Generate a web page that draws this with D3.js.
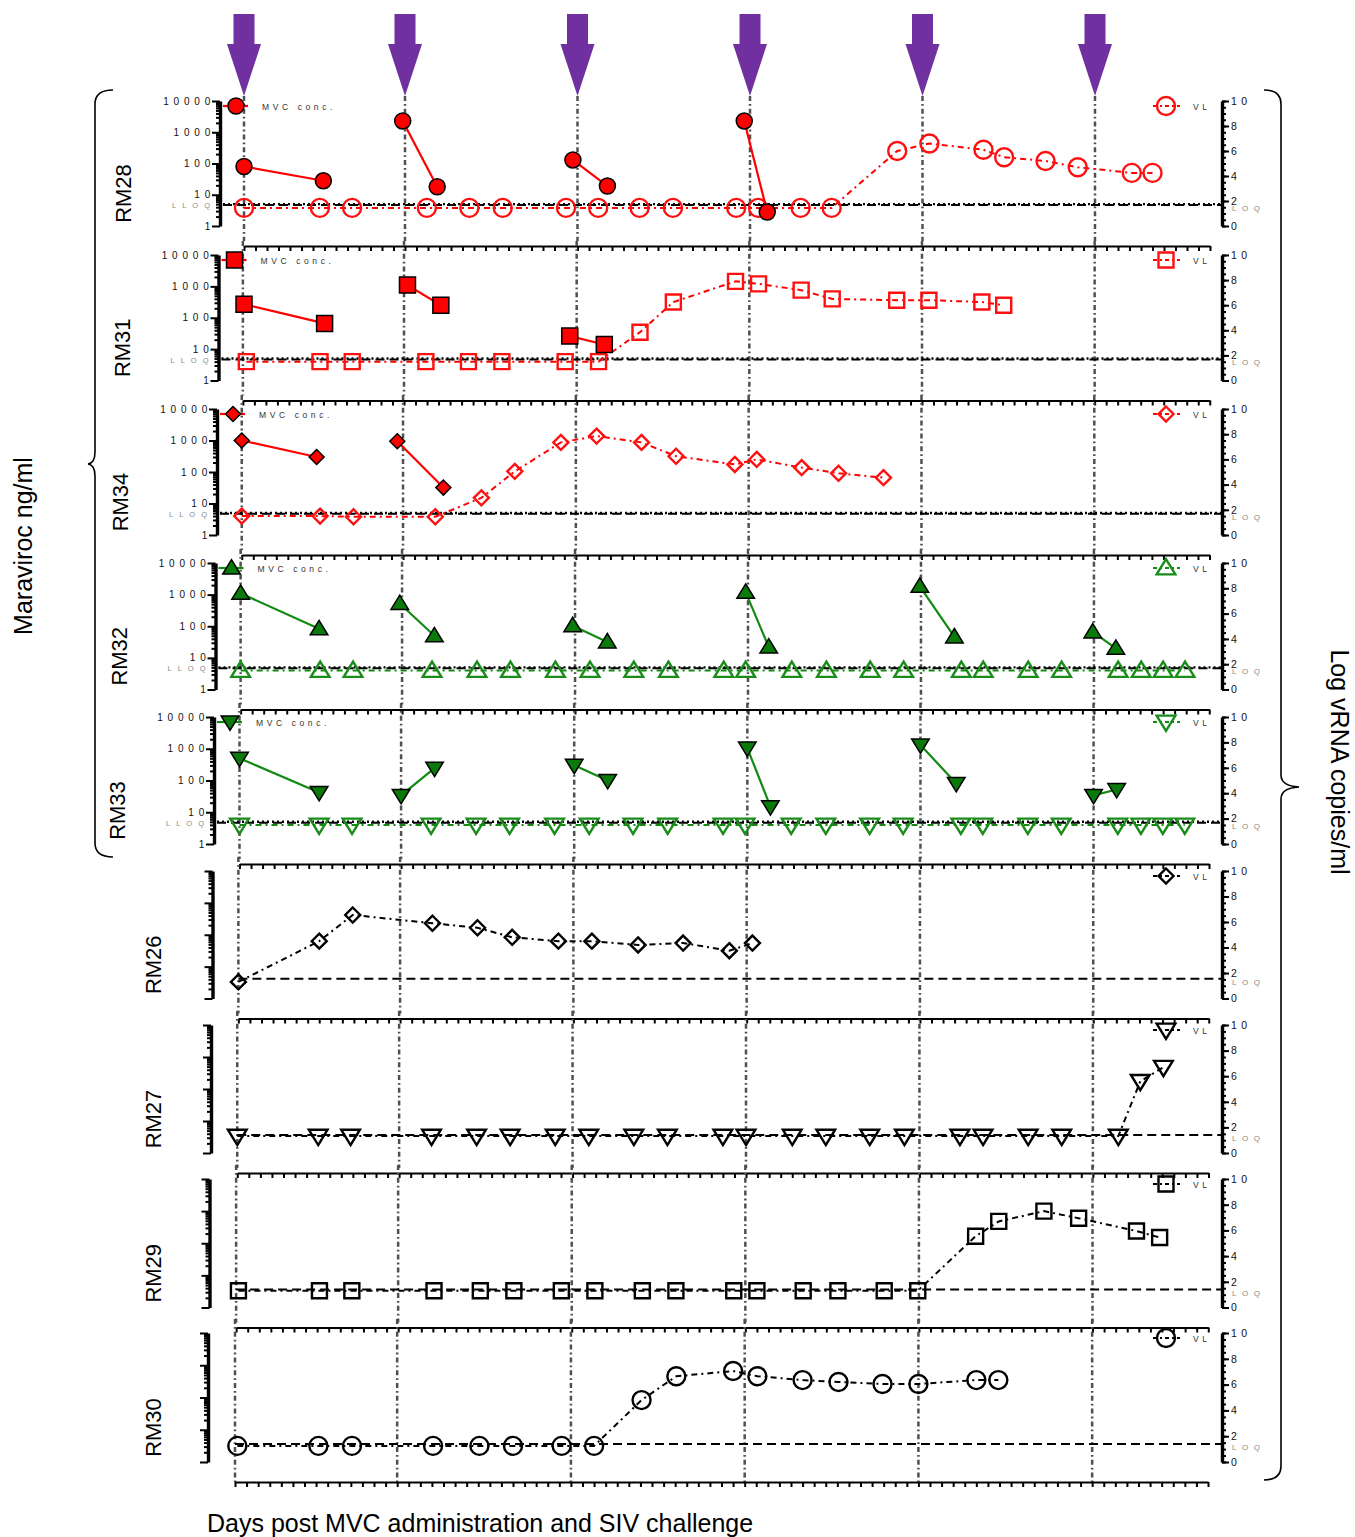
<!DOCTYPE html>
<html><head><meta charset="utf-8">
<script src="https://cdn.jsdelivr.net/npm/d3@7"></script>
<style>body{margin:0;background:#fff}</style>
</head><body>
<svg id="c" width="1355" height="1537" xmlns="http://www.w3.org/2000/svg"></svg>
<script>
// ---------- DATA ----------
const animals = ["RM28","RM31","RM34","RM32","RM33","RM26","RM27","RM29","RM30"];
const animalColor = ["red","red","red","green","green","black","black","black","black"];
const animalSymbol = ["circle","square","diamond","triangle","triangleDown","diamond","triangleDown","square","circle"];
const doseDays = [0, 14, 29, 44, 59, 74];
const mvcTicks = [1, 10, 100, 1000, 10000];
const mvcTickLabels = ["1", "10", "100", "1000", "10000"];
const vlTicks = [0, 2, 4, 6, 8, 10];
const vlTickLabels = ["0", "2", "4", "6", "8", "10"];
const mvcLLOQ = 5;      // ng/ml
const vlLOQ = [1.68, 1.68, 1.68, 1.68, 1.68, 1.55, 1.4, 1.4, 1.4];     // log copies/ml, as drawn per panel
const xTitle = "Days post MVC administration and SIV challenge";
const yLeftTitle = "Maraviroc ng/ml";
const yRightTitle = "Log vRNA copies/ml";

// MVC concentrations (ng/ml), consecutive pairs are joined
const rm28MvcDays = [0, 6.9, 13.8, 16.8, 28.6, 31.6, 43.5, 45.5];
const rm28MvcConc = [80, 28, 2300, 18, 130, 19, 2300, 2.8];
const rm31MvcDays = [0.1, 7.1, 14.3, 17.2, 28.4, 31.4];
const rm31MvcConc = [270, 66, 1100, 250, 26, 14];
const rm34MvcDays = [0, 6.5, 13.5, 17.5];
const rm34MvcConc = [1000, 300, 950, 32];
const rm32MvcDays = [0, 6.8, 13.8, 16.8, 28.8, 31.8, 43.8, 45.8, 58.9, 61.9, 73.9, 75.9];
const rm32MvcConc = [1100, 83, 525, 50, 104, 32, 1180, 22, 1830, 46, 66, 20];
const rm33MvcDays = [0, 6.9, 14, 16.9, 29, 31.9, 44, 46, 59, 62.1, 74, 76];
const rm33MvcConc = [500, 42, 34, 245, 300, 100, 1050, 15, 1320, 81, 34, 52];

// Viral load (log copies/ml)
const rm28VlDays = [0, 6.6, 9.4, 15.9, 19.6, 22.5, 28, 30.8, 34.4, 37.3, 42.8, 44.7, 48.4, 51.1, 56.8, 59.6, 64.3, 66.1, 69.7, 72.5, 77.2, 79];
const rm28Vl = [1.45, 1.45, 1.45, 1.45, 1.45, 1.45, 1.45, 1.45, 1.45, 1.45, 1.45, 1.45, 1.45, 1.45, 6.0, 6.6, 6.1, 5.5, 5.2, 4.7, 4.25, 4.25];
const rm31VlDays = [0.3, 6.7, 9.5, 15.9, 19.6, 22.5, 28, 30.9, 34.5, 37.4, 42.8, 44.8, 48.5, 51.2, 56.8, 59.6, 64.2, 66.1];
const rm31Vl = [1.5, 1.5, 1.5, 1.5, 1.5, 1.5, 1.5, 1.5, 3.85, 6.25, 7.9, 7.7, 7.2, 6.5, 6.4, 6.4, 6.25, 6.0];
const rm34VlDays = [0, 6.8, 9.7, 16.8, 20.8, 23.7, 27.7, 30.8, 34.7, 37.7, 42.8, 44.7, 48.6, 51.8, 55.7];
const rm34Vl = [1.5, 1.5, 1.45, 1.45, 2.95, 5.05, 7.35, 7.85, 7.35, 6.25, 5.6, 6.0, 5.35, 4.9, 4.55];
const rm32VlDays = [0, 6.9, 9.75, 16.6, 20.5, 23.4, 27.3, 30.3, 34.1, 37.1, 41.9, 43.8, 47.8, 50.8, 54.6, 57.5, 62.5, 64.4, 68.3, 71.2, 76.1, 78.1, 80, 81.9];
const rm32Vl = [1.5, 1.5, 1.5, 1.5, 1.5, 1.5, 1.5, 1.5, 1.5, 1.5, 1.5, 1.5, 1.5, 1.5, 1.5, 1.5, 1.5, 1.5, 1.5, 1.5, 1.5, 1.5, 1.5, 1.5];
const rm33VlDays = [0, 6.9, 9.75, 16.6, 20.5, 23.4, 27.3, 30.3, 34.1, 37.1, 41.9, 43.8, 47.8, 50.8, 54.6, 57.5, 62.5, 64.4, 68.3, 71.2, 76.1, 78.1, 80, 81.9];
const rm33Vl = [1.5, 1.5, 1.5, 1.5, 1.5, 1.5, 1.5, 1.5, 1.5, 1.5, 1.5, 1.5, 1.5, 1.5, 1.5, 1.5, 1.5, 1.5, 1.5, 1.5, 1.5, 1.5, 1.5, 1.5];
const rm26VlDays = [0, 7, 9.9, 16.8, 20.7, 23.7, 27.7, 30.6, 34.6, 38.5, 42.5, 44.5];
const rm26Vl = [1.3, 4.5, 6.55, 5.9, 5.55, 4.8, 4.5, 4.5, 4.2, 4.35, 3.75, 4.35];
const rm27VlDays = [0, 7, 9.8, 16.8, 20.7, 23.6, 27.5, 30.4, 34.3, 37.2, 42, 44, 48, 50.9, 54.7, 57.7, 62.5, 64.5, 68.4, 71.3, 76.2, 78.1, 80.1];
const rm27Vl = [1.32, 1.32, 1.32, 1.32, 1.32, 1.32, 1.32, 1.32, 1.32, 1.32, 1.32, 1.32, 1.32, 1.32, 1.32, 1.32, 1.32, 1.32, 1.32, 1.32, 1.32, 5.6, 6.7];
const rm29VlDays = [0.2, 7.2, 10, 17.1, 21.1, 24, 28.1, 31, 35.1, 38, 43, 45, 49, 52, 56, 58.9, 63.9, 65.9, 69.8, 72.8, 77.8, 79.8];
const rm29Vl = [1.3, 1.3, 1.3, 1.3, 1.3, 1.3, 1.3, 1.3, 1.3, 1.3, 1.3, 1.3, 1.3, 1.3, 1.3, 1.3, 5.55, 6.7, 7.5, 6.95, 5.95, 5.45];
const rm30VlDays = [0.2, 7.2, 10.1, 17.1, 21.1, 24, 28.2, 31, 35.1, 38.1, 43, 45.1, 49, 52.1, 55.9, 59, 64, 65.9];
const rm30Vl = [1.25, 1.25, 1.25, 1.25, 1.25, 1.25, 1.25, 1.25, 4.8, 6.65, 7.05, 6.65, 6.35, 6.2, 6.05, 6.05, 6.35, 6.35];

// tables built from the arrays
const mvcTable = {
  RM28: [rm28MvcDays, rm28MvcConc], RM31: [rm31MvcDays, rm31MvcConc], RM34: [rm34MvcDays, rm34MvcConc],
  RM32: [rm32MvcDays, rm32MvcConc], RM33: [rm33MvcDays, rm33MvcConc]
};
const vlTable = {
  RM28: [rm28VlDays, rm28Vl], RM31: [rm31VlDays, rm31Vl], RM34: [rm34VlDays, rm34Vl],
  RM32: [rm32VlDays, rm32Vl], RM33: [rm33VlDays, rm33Vl], RM26: [rm26VlDays, rm26Vl],
  RM27: [rm27VlDays, rm27Vl], RM29: [rm29VlDays, rm29Vl], RM30: [rm30VlDays, rm30Vl]
};

// ---------- DRAWING ----------
const FONT = "'Liberation Sans', Arial, Helvetica, sans-serif";
const COL = {
  red:   {line: "#ff0000", fill: "#ff0000", open: "#ff1010"},
  green: {line: "#108a10", fill: "#0a7a0a", open: "#1a8c1a"},
  black: {line: "#000000", fill: "#000000", open: "#000000"}
};
const svg = d3.select("#c");
svg.append("rect").attr("width", 1355).attr("height", 1537).attr("fill", "#fff");

function symbolPath(type, r) {
  const p = d3.path();
  if (type === "circle") { p.moveTo(r, 0); p.arc(0, 0, r, 0, 2 * Math.PI); }
  else if (type === "square") { p.rect(-r, -r, 2 * r, 2 * r); }
  else if (type === "diamond") { p.moveTo(0, -r); p.lineTo(r, 0); p.lineTo(0, r); p.lineTo(-r, 0); p.closePath(); }
  else if (type === "triangle") { p.moveTo(0, -r * 1.05); p.lineTo(r * 1.1, r * 0.75); p.lineTo(-r * 1.1, r * 0.75); p.closePath(); }
  else if (type === "triangleDown") { p.moveTo(0, r * 1.05); p.lineTo(r * 1.1, -r * 0.75); p.lineTo(-r * 1.1, -r * 0.75); p.closePath(); }
  return p.toString();
}
const filledR = {circle: 8, square: 8, diamond: 7.5, triangle: 8, triangleDown: 8};
const openR = {circle: 9, square: 7.5, diamond: 7.5, triangle: 8.5, triangleDown: 8.5};

const RIGHT_AXIS_X = 1222;
const xDomain = [0, 84];

animals.forEach((name, i) => {
  const top = 101 + 154 * i;
  const h = 125 + 0.5 * i;
  const bottom = top + h;
  const leftX = 220 - 1.5 * i;
  const x = d3.scaleLinear().domain(xDomain).range([244 - 1.125 * i, 1210 - 0.25 * i]);
  const yL = d3.scaleLog().domain([1, 10000]).range([bottom, top]);
  const yR = d3.scaleLinear().domain([0, 10]).range([bottom, top]);
  const col = COL[animalColor[i]];
  const sym = animalSymbol[i];
  const hasMvc = !!mvcTable[name];
  const loq = vlLOQ[i];
  const g = svg.append("g");

  // dose lines
  const y1 = i === 0 ? 96 : top - 14;
  const y2 = i === animals.length - 1 ? bottom + 20 : bottom + 15;
  g.selectAll(".dose").data(doseDays).join("line")
    .attr("x1", d => x(d)).attr("x2", d => x(d)).attr("y1", y1).attr("y2", y2)
    .attr("stroke", "#505050").attr("stroke-width", 2.5).attr("stroke-dasharray", "5,3,1.8,3");

  // reference lines
  if (hasMvc) {
    g.append("line").attr("x1", leftX + 3).attr("x2", RIGHT_AXIS_X).attr("y1", yL(mvcLLOQ)).attr("y2", yL(mvcLLOQ))
      .attr("stroke", "#000").attr("stroke-width", 2.4).attr("stroke-dasharray", "2,3");
  }
  g.append("line").attr("x1", hasMvc ? leftX + 3 : x(0)).attr("x2", RIGHT_AXIS_X).attr("y1", yR(loq)).attr("y2", yR(loq))
    .attr("stroke", "#000").attr("stroke-width", 2).attr("stroke-dasharray", "9,5");

  // viral load series
  const [vd, vv] = vlTable[name];
  const vlPts = vd.map((d, k) => [x(d), yR(vv[k])]);
  g.append("path").attr("d", d3.line()(vlPts)).attr("fill", "none")
    .attr("stroke", col.line).attr("stroke-width", 2).attr("stroke-dasharray", "6,4,2,4");
  g.selectAll(".vlm").data(vlPts).join("path")
    .attr("transform", p => `translate(${p[0]},${p[1]})`)
    .attr("d", symbolPath(sym, openR[sym])).attr("fill", "none")
    .attr("stroke", col.open).attr("stroke-width", 2.4);

  // MVC series
  if (hasMvc) {
    const [md, mc] = mvcTable[name];
    const mPts = md.map((d, k) => [x(d), yL(mc[k])]);
    const pairs = d3.range(0, mPts.length, 2).map(k => [mPts[k], mPts[k + 1]]);
    g.selectAll(".mseg").data(pairs).join("path").attr("d", d => d3.line()(d))
      .attr("stroke", col.line).attr("stroke-width", 2.2).attr("fill", "none");
    g.selectAll(".mm").data(mPts).join("path")
      .attr("transform", p => `translate(${p[0]},${p[1]})`)
      .attr("d", symbolPath(sym, filledR[sym])).attr("fill", col.fill)
      .attr("stroke", "#000").attr("stroke-width", 1.5);
  }

  // left log axis
  const minorL = [];
  for (let e = 0; e < 4; e++) for (let m = 2; m <= 9; m++) minorL.push(m * Math.pow(10, e));
  const axL = g.append("g").attr("transform", `translate(${leftX},0)`);
  axL.call(d3.axisLeft(yL).tickValues(minorL).tickSize(4).tickFormat(""));
  axL.call(g2 => g2.select(".domain").remove());
  const axL2 = g.append("g").attr("transform", `translate(${leftX},0)`);
  axL2.call(d3.axisLeft(yL).tickValues(mvcTicks).tickSize(8).tickSizeOuter(0).tickFormat(""));
  [axL, axL2].forEach(a => a.selectAll(".tick line").attr("stroke", "#000").attr("stroke-width", 2));
  axL2.select(".domain").attr("stroke", "#000").attr("stroke-width", 3.4);
  if (hasMvc) {
    g.selectAll(".ltl").data(mvcTicks).join("text")
      .attr("x", leftX - 5).attr("y", d => yL(d) + 3.5)
      .attr("text-anchor", "end").attr("font-family", FONT).attr("font-size", 10)
      .attr("letter-spacing", 4.8).attr("fill", "#111")
      .text((d, k) => mvcTickLabels[k]);
    g.append("text").attr("x", leftX - 4).attr("y", yL(mvcLLOQ) + 4)
      .attr("text-anchor", "end").attr("font-family", FONT).attr("font-size", 7.5)
      .attr("letter-spacing", 6).attr("fill", "#8a8a8a").text("LLOQ");
  }

  // right linear axis
  const axR = g.append("g").attr("transform", `translate(${RIGHT_AXIS_X},0)`);
  axR.call(d3.axisRight(yR).tickValues(d3.range(0, 10.01, 0.5)).tickSize(4).tickFormat(""));
  axR.select(".domain").remove();
  const axR2 = g.append("g").attr("transform", `translate(${RIGHT_AXIS_X},0)`);
  axR2.call(d3.axisRight(yR).tickValues(vlTicks).tickSize(7).tickSizeOuter(0).tickFormat(""));
  [axR, axR2].forEach(a => a.selectAll(".tick line").attr("stroke", "#000").attr("stroke-width", 2));
  axR2.select(".domain").attr("stroke", "#000").attr("stroke-width", 3.4);
  g.selectAll(".rtl").data(vlTicks).join("text")
    .attr("x", RIGHT_AXIS_X + 9).attr("y", d => yR(d) + 3.8)
    .attr("font-family", FONT).attr("font-size", 10.5).attr("letter-spacing", 4.5).attr("fill", "#111")
    .text((d, k) => vlTickLabels[k]);
  g.append("text").attr("x", RIGHT_AXIS_X + 10).attr("y", yR(loq) + 6)
    .attr("font-family", FONT).attr("font-size", 8).attr("letter-spacing", 5.5).attr("fill", "#8a8a8a").text("LOQ");

  // x axis (one per panel, offset below)
  const axX = g.append("g").attr("transform", `translate(0,${bottom + 20})`);
  axX.call(d3.axisBottom(x).tickValues(d3.range(xDomain[0], xDomain[1] + 1, 1)).tickSize(5).tickSizeOuter(0).tickFormat(""));
  axX.select(".domain").attr("stroke", "#000").attr("stroke-width", 2.2);
  axX.selectAll(".tick line").attr("stroke", "#000").attr("stroke-width", 2);

  // legends
  const ly = top + 5;
  if (hasMvc) {
    g.append("line").attr("x1", leftX + 3).attr("x2", leftX + 28).attr("y1", ly).attr("y2", ly)
      .attr("stroke", col.line).attr("stroke-width", 2.2);
    g.append("path").attr("transform", `translate(${leftX + 16},${ly})`)
      .attr("d", symbolPath(sym, filledR[sym])).attr("fill", col.fill).attr("stroke", "#000").attr("stroke-width", 1.5);
    g.append("text").attr("x", leftX + 42).attr("y", ly + 3.5).attr("font-family", FONT).attr("font-size", 8.5)
      .attr("letter-spacing", 3.6).attr("fill", "#333").text("MVC conc.");
  }
  g.append("line").attr("x1", 1153).attr("x2", 1180).attr("y1", ly).attr("y2", ly)
    .attr("stroke", col.line).attr("stroke-width", 2).attr("stroke-dasharray", "4,3,2,3");
  g.append("path").attr("transform", `translate(1166,${ly})`)
    .attr("d", symbolPath(sym, openR[sym])).attr("fill", "none").attr("stroke", col.open).attr("stroke-width", 2.4);
  g.append("text").attr("x", 1193).attr("y", ly + 3.5).attr("font-family", FONT).attr("font-size", 8.5)
    .attr("letter-spacing", 3.6).attr("fill", "#333").text("VL");

  // animal label
  const lx = hasMvc ? leftX - 89 : 161;
  const lyc = top + h / 2 + 30;
  g.append("text").attr("transform", `translate(${lx},${lyc}) rotate(-90)`)
    .attr("text-anchor", "middle").attr("font-family", FONT).attr("font-size", 22).attr("fill", "#000").text(name);
});

// arrows above first panel
const xTop = d3.scaleLinear().domain(xDomain).range([244, 1210]);
const arrows = svg.append("g").attr("fill", "#7030a0");
arrows.selectAll("rect").data(doseDays).join("rect")
  .attr("x", d => xTop(d) - 10.5).attr("y", 14).attr("width", 21).attr("height", 31);
arrows.selectAll("path").data(doseDays).join("path")
  .attr("d", d => { const c = xTop(d); return `M${c - 17},44 L${c + 17},44 L${c},96 Z`; });

// braces
svg.append("path").attr("d", "M113,90 Q95,90 95,104 L95,452 Q95,463 88,464 Q95,465 95,476 L95,843 Q95,857 113,857")
  .attr("fill", "none").attr("stroke", "#000").attr("stroke-width", 1.6);
svg.append("path").attr("d", "M1264,90 Q1281,90 1281,104 L1281,775 Q1281,786 1299,787 Q1281,788 1281,799 L1281,1466 Q1281,1480 1264,1480")
  .attr("fill", "none").attr("stroke", "#000").attr("stroke-width", 1.6);

// titles
svg.append("text").attr("transform", "translate(32,546) rotate(-90)").attr("text-anchor", "middle")
  .attr("font-family", FONT).attr("font-size", 25).text(yLeftTitle);
svg.append("text").attr("transform", "translate(1331,762) rotate(90)").attr("text-anchor", "middle")
  .attr("font-family", FONT).attr("font-size", 25).text(yRightTitle);
svg.append("text").attr("x", 207).attr("y", 1532)
  .attr("font-family", FONT).attr("font-size", 25).text(xTitle);
</script>
</body></html>
